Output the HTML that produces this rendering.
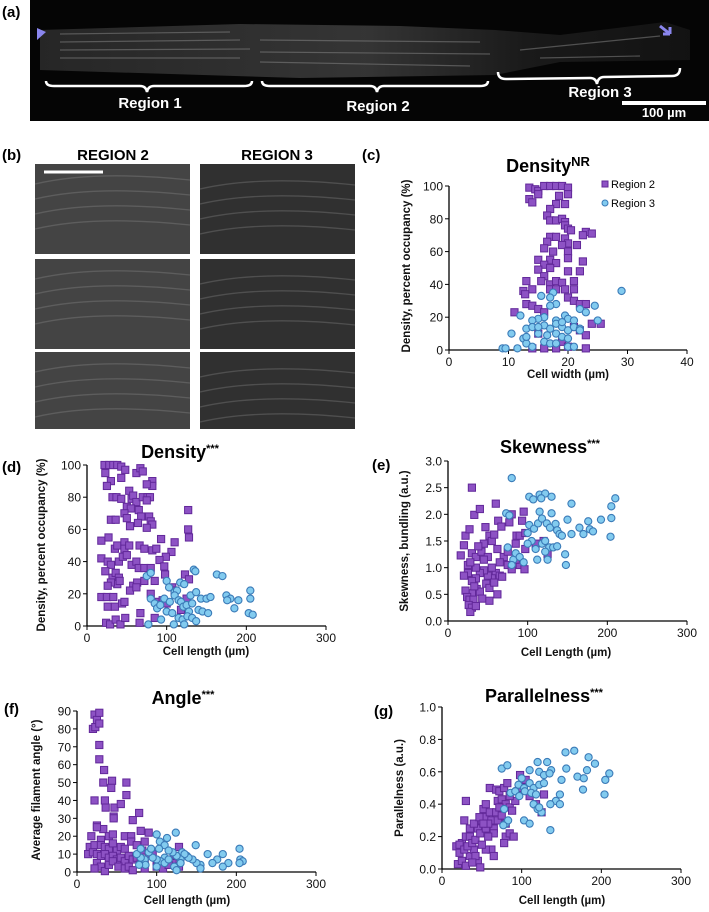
<!DOCTYPE html>
<html><head><meta charset="utf-8">
<style>
html,body{margin:0;padding:0;background:#fff;}
svg{display:block;font-family:"Liberation Sans",sans-serif;}
.lbl{font-family:"Liberation Sans",sans-serif;font-weight:bold;font-size:15px;}
.title{font-family:"Liberation Sans",sans-serif;font-weight:900;font-size:18px;}
.tick{font-size:12px;fill:#111;}
.atitle{font-size:11.5px;font-weight:bold;fill:#111;}
</style></head>
<body>
<svg id="fig" width="709" height="912" viewBox="0 0 709 912" xmlns="http://www.w3.org/2000/svg">
<defs>
<linearGradient id="cellg" x1="0" x2="1" y1="0" y2="0">
<stop offset="0" stop-color="#2a2a2a"/><stop offset="0.5" stop-color="#3a3a3a"/><stop offset="0.75" stop-color="#1c1c1c"/><stop offset="1" stop-color="#141414"/></linearGradient>
</defs>
<text class="lbl" x="2" y="17">(a)</text>
<g>
<rect x="30" y="0" width="679" height="121" fill="#050505"/>
<path d="M40,30 L240,24 L400,26 L495,30 L560,35 L665,22 L690,30 L690,60 L560,62 L495,75 L300,78 L40,70 Z" fill="url(#cellg)" opacity="0.9"/>
<g stroke="#8a8a8a" stroke-width="1.2" opacity="0.5">
<line x1="60" y1="34" x2="230" y2="32"/><line x1="60" y1="42" x2="240" y2="40"/><line x1="60" y1="50" x2="250" y2="49"/><line x1="60" y1="58" x2="240" y2="58"/>
<line x1="260" y1="40" x2="480" y2="42"/><line x1="260" y1="52" x2="490" y2="54"/><line x1="260" y1="62" x2="470" y2="66"/>
<line x1="520" y1="50" x2="660" y2="36"/><line x1="540" y1="58" x2="640" y2="56"/>
</g>
<polygon points="37,28 46,32 37,40" fill="#8a86ee"/>
<path d="M660,26 L670,34 M670,34 L670,27 M670,34 L663,34" stroke="#8a86ee" stroke-width="3" fill="none"/>
<g stroke="#fff" stroke-width="2.5" fill="none">
<path d="M46,81 Q46,86 54,86 L140,86 Q146,86 147,92 Q148,86 154,86 L244,86 Q252,86 252,81"/>
<path d="M262,81 Q262,86 270,86 L370,86 Q376,86 377,92 Q378,86 384,86 L480,86 Q488,86 488,81"/>
<path d="M498,72 Q498,79 506,79 L590,78 Q596,78 597,84 Q598,77 604,77 L672,76 Q680,76 680,68"/>
<line x1="622" y1="103" x2="706" y2="103" stroke-width="4"/>
</g>
<g fill="#fff" font-family="Liberation Sans, sans-serif" font-weight="bold" font-size="15">
<text x="150" y="108" text-anchor="middle">Region 1</text>
<text x="378" y="111" text-anchor="middle">Region 2</text>
<text x="600" y="97" text-anchor="middle">Region 3</text>
<text x="664" y="117" text-anchor="middle" font-size="13">100 µm</text>
</g>
</g>
<text class="lbl" x="2" y="160">(b)</text>
<text x="113" y="160" text-anchor="middle" class="lbl" font-size="16">REGION 2</text>
<text x="277" y="160" text-anchor="middle" class="lbl" font-size="16">REGION 3</text>
<g id="bimgs"></g>
<g id="charts"></g>
</svg>
<script>
const NS="http://www.w3.org/2000/svg";
function mk(tag,attrs,parent){const e=document.createElementNS(NS,tag);for(const k in attrs)e.setAttribute(k,attrs[k]);parent.appendChild(e);return e;}
const bimgs=document.getElementById('bimgs');
const rowsY=[164,259,352];
rowsY.forEach((y,i)=>{[[35,'#444'],[200,'#303030']].forEach(([x,c],j)=>{
  const h=(i===2)?77:90;
  const r=mk('rect',{x:x,y:y,width:155,height:h,fill:c},bimgs);
  
  
  for(let k=0;k<4;k++){
    const yy=y+12+k*15+(j*5);
    mk('path',{d:`M${x},${yy+8} Q${x+60},${yy-6} ${x+155},${yy+4}`,stroke:'#999',"stroke-width":1.3,fill:'none',opacity:0.3},bimgs);
  }
});});
mk('line',{x1:44,y1:172,x2:103,y2:172,stroke:'#fff',"stroke-width":3},bimgs);

const cR2x=[13.5,14.5,15,16,17,18,19,20,20,15,13.5,14,18.5,19.5,18,17,16.5,17,18,19,19.5,19.5,20,20.5,23,24,22.5,17,18,16.5,19.5,20,19,21.5,16,17.5,20,20,15,17,18,22.5,16,15,17,20,22,16,15.5,17,18,19,21,13,14,12.5,12.8,17,18,19.5,21,20,21,22,23,13,14,15,11,16,24,25.5,22,23,19,20,23,16,18,14,15,21];
const cR2y=[99,98,97,100,100,100,100,99,95,95,92,90,94,89,89,86,82,79,79,80,78,76,74,73,72,71,70,69,69,66,68,65,64,64,62,60,60,56,55,55,53,54,52,49,50,48,48,45,42,40,42,41,42,42,37,36,34,37,37,37,37,32,30,28,28,28,27,25,23,23,16,16,12,9,5,2,1,1,1,1,10,14];
const cR3x=[29,17.5,15.5,17,18,17,24.5,22,12,19.5,20,16,15,14,18,21,25,23,13,14,16,17,18,19,20,21,22,12.5,15,16.5,18,19,20,10.5,13,14,16,17,18,20,21,9,9.5,11.5,13,22,15,19];
const cR3y=[36,35,33,32,28,27,27,25,21,21,19,20,19,18,18,18,18,23,13,14,15,13,16,14,12,14,13,7,10,9,10,8,7,10,4,2,5,4,4,2,2,1,1,1,8,12,14,17];

const dR2x=[22,28,33,38,43,48,23,30,25,43,62,67,70,82,82,75,53,32,37,43,56,58,62,70,76,79,75,50,55,65,47,50,30,36,68,78,80,82,127,127,128,75,64,54,18,27,35,38,47,47,53,66,72,82,87,93,110,106,99,18,26,30,40,45,50,56,62,65,72,80,91,97,23,32,36,40,38,30,26,41,58,63,72,85,98,107,123,128,18,25,33,26,35,44,47,54,62,80,90,95,100,67,85,24,29,36,42,48,66,110,118,125];
const dR2y=[100,100,100,100,99,97,95,90,87,92,95,98,96,90,87,88,84,80,80,79,79,81,77,80,80,80,78,74,73,72,70,67,66,66,68,68,65,63,72,60,55,61,64,62,53,55,48,50,52,48,50,50,48,47,48,54,52,46,43,42,40,38,40,43,44,38,40,36,36,36,41,37,34,30,33,30,26,27,25,28,25,27,28,28,32,24,32,29,18,18,18,12,12,14,15,22,24,20,15,16,14,8,5,2,1,4,1,5,2,22,10,17];
const dR3x=[75,80,134,136,163,170,100,117,122,110,103,113,130,137,143,150,155,175,180,190,205,205,80,85,88,92,97,104,110,115,118,121,125,128,132,140,145,152,176,185,203,208,100,107,115,120,126,132,137,93,77,109,122];
const dR3y=[31,33,35,34,32,31,28,27,26,21,24,22,19,21,17,17,18,19,17,16,22,17,17,14,11,13,17,15,19,16,15,12,13,9,14,10,9,8,16,11,8,7,9,8,5,4,6,5,3,4,1,1,1];

const eR2x=[30,33,40,60,22,27,20,16,30,35,45,47,52,55,58,63,67,62,70,77,80,86,90,95,97,93,85,75,65,60,55,50,45,40,35,30,25,20,25,35,42,50,55,65,68,75,80,90,96,48,52,58,36,40,30,22,24,27,32,43,52,62,26,30,28,35,110,120,125,97,85,38,45,28,33];
const eR2y=[2.5,1.99,2.1,2.2,1.6,1.72,1.42,1.23,1.27,1.2,1.45,1.76,1.6,1.5,1.62,1.88,1.77,1.35,1.2,1.85,2.0,1.6,1.6,2.05,1.65,1.88,1.45,1.3,1.1,0.9,0.8,0.85,0.95,0.9,0.8,0.75,0.9,0.85,1.05,1.0,1.3,1.2,1.0,0.85,0.83,1.05,0.97,1.05,0.97,0.7,0.62,0.72,0.6,0.55,0.52,0.57,0.45,0.4,0.4,0.42,0.38,0.5,0.3,0.25,0.17,0.28,1.45,1.5,1.25,1.35,1.15,1.4,1.15,1.1,0.65];
const eR3x=[80,102,107,115,122,117,130,155,210,205,205,192,176,150,115,130,73,77,102,108,113,118,124,128,135,137,140,143,155,165,170,178,182,204,100,105,110,118,122,127,132,137,147,148,112,125,75,82,85,90,95,80,122,100];
const eR3y=[2.68,2.33,2.28,2.37,2.39,2.3,2.33,2.2,2.3,2.15,1.93,1.9,1.87,1.9,2.05,2.02,2.02,1.98,1.8,1.73,1.83,1.92,1.83,1.75,1.82,1.7,1.63,1.6,1.63,1.75,1.63,1.72,1.68,1.58,1.65,1.5,1.35,1.45,1.5,1.38,1.38,1.4,1.25,1.05,1.15,1.15,1.38,1.15,1.27,1.2,1.1,1.05,1.3,1.45];

const fR2x=[20,23,22,25,28,28,28,28,34,33,44,43,47,35,22,36,46,46,55,62,62,78,70,25,33,25,18,30,40,45,60,68,80,90,85,16,22,30,35,40,45,50,55,60,68,75,82,90,95,14,20,25,30,35,40,45,50,55,60,65,70,75,80,85,100,105,110,120,128,125,25,30,35,40,45,52,60,65,70,85,100,108,115,128,22];
const fR2y=[80,81,88,85,89,83,71,63,57,50,51,47,36,40,40,36,31,30,38,50,43,33,29,26,24,25,20,18,20,21,20,20,23,22,17,14,15,15,14,13,16,12,14,13,17,15,12,10,10,10,11,10,9,10,8,9,7,8,6,9,7,8,6,5,6,5,4,7,14,9,5,3,0.5,4,6,3,2,3,1,2,3,2,4,3,2];
const fR3x=[100,104,110,113,124,132,138,149,164,176,183,204,205,208,170,190,204,155,150,145,140,135,130,125,120,115,110,105,100,95,90,85,80,75,80,86,78,100,110,115,122,125,130,155,183,93,103];
const fR3y=[21,17,15,19,22,11,9,15,10,7,10,13,7,6,5,5,5,4,5,7,8,10,7,9,11,12,8,6,7,8,11,7,8,10,13,4,4,3,5,7,3,1,5,2,3,13,13];

const gR2x=[30,28,18,22,25,30,35,20,25,30,35,40,45,48,22,28,32,38,42,45,48,50,55,52,55,60,62,65,60,68,72,78,82,70,75,80,85,88,92,95,98,100,105,110,118,128,125,80,85,90,78,70,65,55,58,62,65,55,50,42,38,58,68,75,80,85,72,35,40,47,52];
const gR2y=[0.42,0.3,0.14,0.1,0.16,0.2,0.2,0.03,0.05,0.02,0.08,0.12,0.05,0.01,0.15,0.12,0.14,0.16,0.18,0.25,0.22,0.3,0.32,0.37,0.4,0.35,0.3,0.25,0.5,0.49,0.48,0.5,0.53,0.42,0.43,0.4,0.38,0.36,0.42,0.48,0.58,0.5,0.55,0.45,0.4,0.46,0.35,0.2,0.22,0.2,0.16,0.3,0.22,0.25,0.2,0.12,0.08,0.12,0.15,0.08,0.04,0.28,0.35,0.33,0.28,0.45,0.38,0.25,0.28,0.32,0.28];
const gR3x=[75,82,100,110,120,132,155,166,184,192,156,137,122,128,135,170,178,182,205,210,150,96,103,110,115,122,128,86,92,97,104,112,118,177,204,148,143,136,148,115,120,125,122,103,110,136,78,80,83,77];
const gR3y=[0.62,0.64,0.56,0.61,0.66,0.66,0.72,0.73,0.69,0.65,0.62,0.61,0.6,0.58,0.59,0.57,0.56,0.61,0.55,0.59,0.55,0.52,0.5,0.53,0.5,0.52,0.53,0.47,0.48,0.45,0.48,0.47,0.46,0.49,0.46,0.46,0.42,0.4,0.4,0.4,0.37,0.35,0.38,0.3,0.28,0.24,0.37,0.28,0.3,0.27];

const xTicksWidth=[0,10,20,30,40];
const xTicksLen=[0,100,200,300];
const yTicksDensity=[0,20,40,60,80,100];
const yTicksSkew=[0,0.5,1.0,1.5,2.0,2.5,3.0];
const yTicksAngle=[0,10,20,30,40,50,60,70,80,90];
const yTicksPar=[0,0.2,0.4,0.6,0.8,1.0];

const charts=document.getElementById('charts');
function chart(cfg){
  const g=mk('g',{},charts);
  
  
  const xs=v=>cfg.x0+(v-cfg.xmin)/(cfg.xmax-cfg.xmin)*(cfg.x1-cfg.x0);
  const ys=v=>cfg.y0-(v-cfg.ymin)/(cfg.ymax-cfg.ymin)*(cfg.y0-cfg.y1);
  const ax=mk('line',{x1:cfg.x0,y1:cfg.y0,x2:cfg.x1,y2:cfg.y0,stroke:'#000','stroke-width':1.3},g);
  
  const ay=mk('line',{x1:cfg.x0,y1:cfg.y0,x2:cfg.x0,y2:cfg.y1,stroke:'#000','stroke-width':1.3},g);
  
  cfg.xt.forEach(v=>{
    mk('line',{x1:xs(v),y1:cfg.y0,x2:xs(v),y2:cfg.y0+4,stroke:'#000'},g);
    const t=mk('text',{x:xs(v),y:cfg.y0+16,'text-anchor':'middle',class:'tick'},g);
    t.textContent=v;
    
    
  });
  cfg.yt.forEach(v=>{
    mk('line',{x1:cfg.x0-4,y1:ys(v),x2:cfg.x0,y2:ys(v),stroke:'#000'},g);
    const t=mk('text',{x:cfg.x0-6,y:ys(v)+4.5,'text-anchor':'end',class:'tick'},g);
    t.textContent=cfg.fmt?v.toFixed(1):v;
    
    
  });
  cfg.r2x.forEach((v,i)=>{
    const r=mk('rect',{x:xs(v)-3.6,y:ys(cfg.r2y[i])-3.6,width:7.2,height:7.2,fill:'#8d52c4',stroke:'#62289a','stroke-width':1},g);
    
    
  });
  cfg.r3x.forEach((v,i)=>{
    const c=mk('circle',{cx:xs(v),cy:ys(cfg.r3y[i]),r:3.6,fill:'#82cbef',stroke:'#3b7bb8','stroke-width':1.1},g);
    
    
  });
  const tt=mk('text',{x:cfg.tx,y:cfg.ty,'text-anchor':'middle',class:'title'},g);
  tt.textContent=cfg.title;
  const sup=mk('tspan',{dy:-6,'font-size':cfg.supSize||11},tt);sup.textContent=cfg.sup;
  
  
  const xl=mk('text',{x:cfg.xlx,y:cfg.xly,'text-anchor':'middle',class:'atitle'},g);
  xl.textContent=cfg.xlabel;
  
  
  const yl=mk('text',{x:0,y:0,'text-anchor':'middle',class:'atitle',transform:`translate(${cfg.ylx},${cfg.yly}) rotate(-90)`},g);
  yl.textContent=cfg.ylabel;
  
  
  const pl=mk('text',{x:cfg.plx,y:cfg.ply,class:'lbl'},g);
  pl.textContent=cfg.panel;
  
  
}
chart({name:'chart-c-density-width',x0:449,x1:687,y0:350,y1:186,xmin:0,xmax:40,ymin:0,ymax:100,xt:xTicksWidth,yt:yTicksDensity,
  r2x:cR2x,r2y:cR2y,r3x:cR3x,r3y:cR3y,title:'Density',sup:'NR',supSize:13,tx:548,ty:172,
  xlabel:'Cell width (µm)',xlx:568,xly:378,ylabel:'Density, percent occupancy (%)',ylx:410,yly:266,panel:'(c)',plx:362,ply:160});
chart({name:'chart-d-density-length',x0:87,x1:326,y0:626,y1:465,xmin:0,xmax:300,ymin:0,ymax:100,xt:xTicksLen,yt:yTicksDensity,
  r2x:dR2x,r2y:dR2y,r3x:dR3x,r3y:dR3y,title:'Density',sup:'***',tx:180,ty:458,
  xlabel:'Cell length (µm)',xlx:206,xly:655,ylabel:'Density, percent occupancy (%)',ylx:45,yly:545,panel:'(d)',plx:2,ply:472});
chart({name:'chart-e-skewness',x0:448,x1:687,y0:621,y1:461,xmin:0,xmax:300,ymin:0,ymax:3,xt:xTicksLen,yt:yTicksSkew,fmt:true,
  r2x:eR2x,r2y:eR2y,r3x:eR3x,r3y:eR3y,title:'Skewness',sup:'***',tx:550,ty:453,
  xlabel:'Cell Length (µm)',xlx:566,xly:656,ylabel:'Skewness, bundling (a.u.)',ylx:408,yly:541,panel:'(e)',plx:372,ply:470});
chart({name:'chart-f-angle',x0:77,x1:316,y0:872,y1:711,xmin:0,xmax:300,ymin:0,ymax:90,xt:xTicksLen,yt:yTicksAngle,
  r2x:fR2x,r2y:fR2y,r3x:fR3x,r3y:fR3y,title:'Angle',sup:'***',tx:183,ty:704,
  xlabel:'Cell length (µm)',xlx:187,xly:904,ylabel:'Average filament angle (°)',ylx:40,yly:790,panel:'(f)',plx:4,ply:714});
chart({name:'chart-g-parallelness',x0:442,x1:681,y0:869,y1:707,xmin:0,xmax:300,ymin:0,ymax:1,xt:xTicksLen,yt:yTicksPar,fmt:true,
  r2x:gR2x,r2y:gR2y,r3x:gR3x,r3y:gR3y,title:'Parallelness',sup:'***',tx:544,ty:702,
  xlabel:'Cell length (µm)',xlx:562,xly:904,ylabel:'Parallelness (a.u.)',ylx:403,yly:788,panel:'(g)',plx:374,ply:716});
const lg=mk('g',{},charts);


mk('rect',{x:602,y:181,width:6,height:6,fill:'#8d52c4',stroke:'#62289a'},lg);
const l1=mk('text',{x:611,y:188,'font-size':11},lg);l1.textContent='Region 2';


mk('circle',{cx:605,cy:203,r:3,fill:'#82cbef',stroke:'#3b7bb8'},lg);
const l2=mk('text',{x:611,y:207,'font-size':11},lg);l2.textContent='Region 3';


</script>
</body></html>
